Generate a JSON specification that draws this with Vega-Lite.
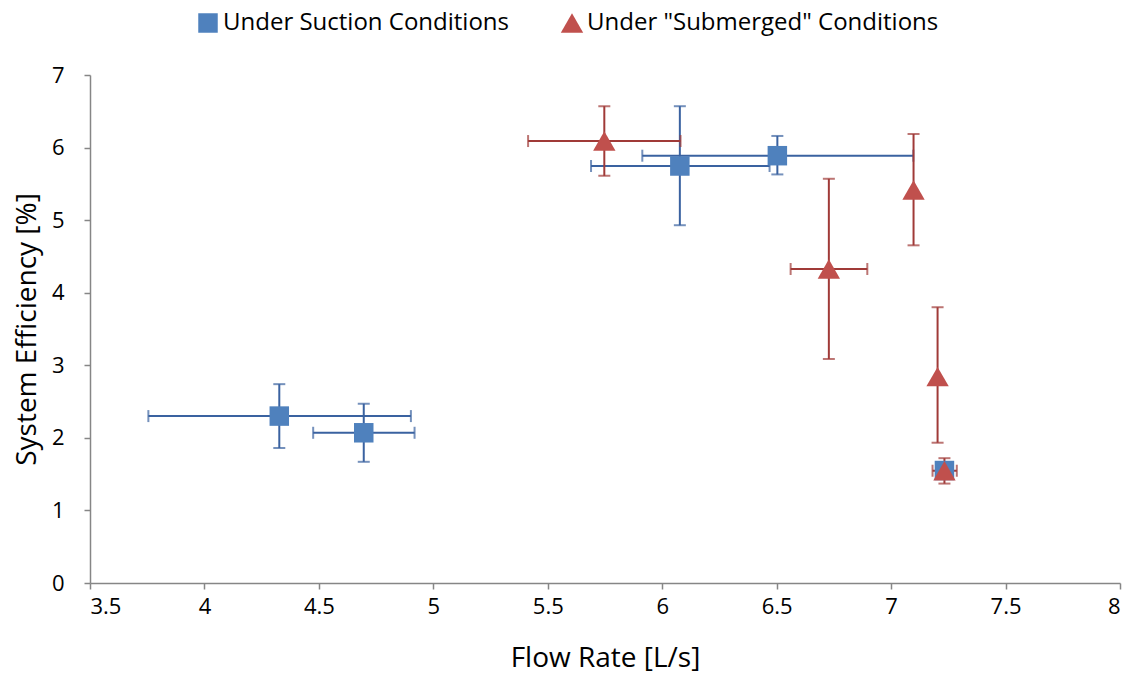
{
  "$schema": "https://vega.github.io/schema/vega-lite/v6.json",
  "autosize": "none",
  "width": 1030,
  "height": 508,
  "padding": {"left": 90, "top": 75, "right": 12, "bottom": 94},
  "background": "white",
  "config": {
    "font": "Open Sans",
    "view": {"stroke": null},
    "axis": {
      "grid": false,
      "domainColor": "#868686",
      "domainWidth": 1.5,
      "tickColor": "#868686",
      "tickWidth": 1.5,
      "tickSize": 6,
      "labelColor": "#000000",
      "labelFontSize": 22,
      "labelFont": "Open Sans",
      "titleFont": "Open Sans",
      "titleFontSize": 28,
      "titleFontWeight": "normal",
      "titleColor": "#000000"
    }
  },
  "data": {
    "values": [
      {"series": "Under Suction Conditions", "x": 4.327, "y": 2.30, "xlo": 3.755, "xhi": 4.902, "ylo": 1.86, "yhi": 2.74},
      {"series": "Under Suction Conditions", "x": 4.696, "y": 2.07, "xlo": 4.475, "xhi": 4.918, "ylo": 1.67, "yhi": 2.47},
      {"series": "Under Suction Conditions", "x": 6.077, "y": 5.746, "xlo": 5.689, "xhi": 6.469, "ylo": 4.93, "yhi": 6.57},
      {"series": "Under Suction Conditions", "x": 6.503, "y": 5.888, "xlo": 5.913, "xhi": 7.097, "ylo": 5.63, "yhi": 6.16},
      {"series": "Under Suction Conditions", "x": 7.233, "y": 1.55, "xlo": null, "xhi": null, "ylo": null, "yhi": null},
      {"series": "Under \"Submerged\" Conditions", "x": 5.747, "y": 6.09, "xlo": 5.414, "xhi": 6.08, "ylo": 5.61, "yhi": 6.57},
      {"series": "Under \"Submerged\" Conditions", "x": 6.728, "y": 4.327, "xlo": 6.561, "xhi": 6.896, "ylo": 3.087, "yhi": 5.57},
      {"series": "Under \"Submerged\" Conditions", "x": 7.098, "y": 5.415, "xlo": null, "xhi": null, "ylo": 4.653, "yhi": 6.187},
      {"series": "Under \"Submerged\" Conditions", "x": 7.203, "y": 2.843, "xlo": null, "xhi": null, "ylo": 1.933, "yhi": 3.80},
      {"series": "Under \"Submerged\" Conditions", "x": 7.233, "y": 1.547, "xlo": 7.181, "xhi": 7.287, "ylo": 1.37, "yhi": 1.72}
    ]
  },
  "layer": [
    {
      "transform": [{"filter": "datum.xlo != null && datum.series == 'Under Suction Conditions'"}],
      "mark": {"type": "errorbar", "ticks": true, "thickness": 2, "size": 12, "color": "#3A62A0"},
      "encoding": {
        "x": {"field": "xlo", "type": "quantitative", "title": "Flow Rate [L/s]", "scale": {"domain": [3.5, 8], "nice": false, "zero": false}},
        "x2": {"field": "xhi"},
        "y": {"field": "y", "type": "quantitative", "title": "System Efficiency [%]", "scale": {"domain": [0, 7], "nice": false}}
      }
    },
    {
      "transform": [{"filter": "datum.ylo != null && datum.series == 'Under Suction Conditions'"}],
      "mark": {"type": "errorbar", "ticks": true, "thickness": 2, "size": 12, "color": "#3A62A0"},
      "encoding": {
        "y": {"field": "ylo", "type": "quantitative", "title": "System Efficiency [%]", "scale": {"domain": [0, 7], "nice": false}},
        "y2": {"field": "yhi"},
        "x": {"field": "x", "type": "quantitative", "title": "Flow Rate [L/s]", "scale": {"domain": [3.5, 8], "nice": false, "zero": false}}
      }
    },
    {
      "transform": [{"filter": "datum.xlo != null && datum.series != 'Under Suction Conditions'"}],
      "mark": {"type": "errorbar", "ticks": true, "thickness": 2, "size": 12, "color": "#A03A38"},
      "encoding": {
        "x": {"field": "xlo", "type": "quantitative", "title": "Flow Rate [L/s]", "scale": {"domain": [3.5, 8], "nice": false, "zero": false}},
        "x2": {"field": "xhi"},
        "y": {"field": "y", "type": "quantitative", "title": "System Efficiency [%]", "scale": {"domain": [0, 7], "nice": false}}
      }
    },
    {
      "transform": [{"filter": "datum.ylo != null && datum.series != 'Under Suction Conditions'"}],
      "mark": {"type": "errorbar", "ticks": true, "thickness": 2, "size": 12, "color": "#A03A38"},
      "encoding": {
        "y": {"field": "ylo", "type": "quantitative", "title": "System Efficiency [%]", "scale": {"domain": [0, 7], "nice": false}},
        "y2": {"field": "yhi"},
        "x": {"field": "x", "type": "quantitative", "title": "Flow Rate [L/s]", "scale": {"domain": [3.5, 8], "nice": false, "zero": false}}
      }
    },
    {
      "mark": {"type": "point", "filled": true, "opacity": 1},
      "encoding": {
        "x": {"field": "x", "type": "quantitative", "scale": {"domain": [3.5, 8], "nice": false, "zero": false}, "title": "Flow Rate [L/s]",
          "axis": {"values": [3.5, 4, 4.5, 5, 5.5, 6, 6.5, 7, 7.5, 8], "format": ".1~f", "labelPadding": 7, "titlePadding": 27}},
        "y": {"field": "y", "type": "quantitative", "scale": {"domain": [0, 7], "nice": false}, "title": "System Efficiency [%]",
          "axis": {"values": [0, 1, 2, 3, 4, 5, 6, 7], "format": "d", "labelPadding": 20, "titlePadding": 10}},
        "color": {"field": "series", "type": "nominal", "scale": {"domain": ["Under Suction Conditions", "Under \"Submerged\" Conditions"], "range": ["#4F81BD", "#C0504D"]},
          "legend": {"title": null, "orient": "none", "legendX": 106, "legendY": -64, "direction": "horizontal", "labelFontSize": 24, "labelFont": "Open Sans", "labelColor": "#000000", "labelLimit": 0, "columnPadding": 50, "labelOffset": 3, "symbolStrokeWidth": 0}},
        "shape": {"field": "series", "type": "nominal", "scale": {"domain": ["Under Suction Conditions", "Under \"Submerged\" Conditions"], "range": ["square", "triangle-up"]},
          "legend": {"title": null, "orient": "none", "legendX": 106, "legendY": -64, "direction": "horizontal", "labelFontSize": 24, "labelFont": "Open Sans", "labelColor": "#000000", "labelLimit": 0, "columnPadding": 50, "labelOffset": 3, "symbolStrokeWidth": 0}},
        "size": {"field": "series", "type": "nominal", "scale": {"domain": ["Under Suction Conditions", "Under \"Submerged\" Conditions"], "range": [380, 500]},
          "legend": {"title": null, "orient": "none", "legendX": 106, "legendY": -64, "direction": "horizontal", "labelFontSize": 24, "labelFont": "Open Sans", "labelColor": "#000000", "labelLimit": 0, "columnPadding": 50, "labelOffset": 3, "symbolStrokeWidth": 0}}
      }
    }
  ]
}
